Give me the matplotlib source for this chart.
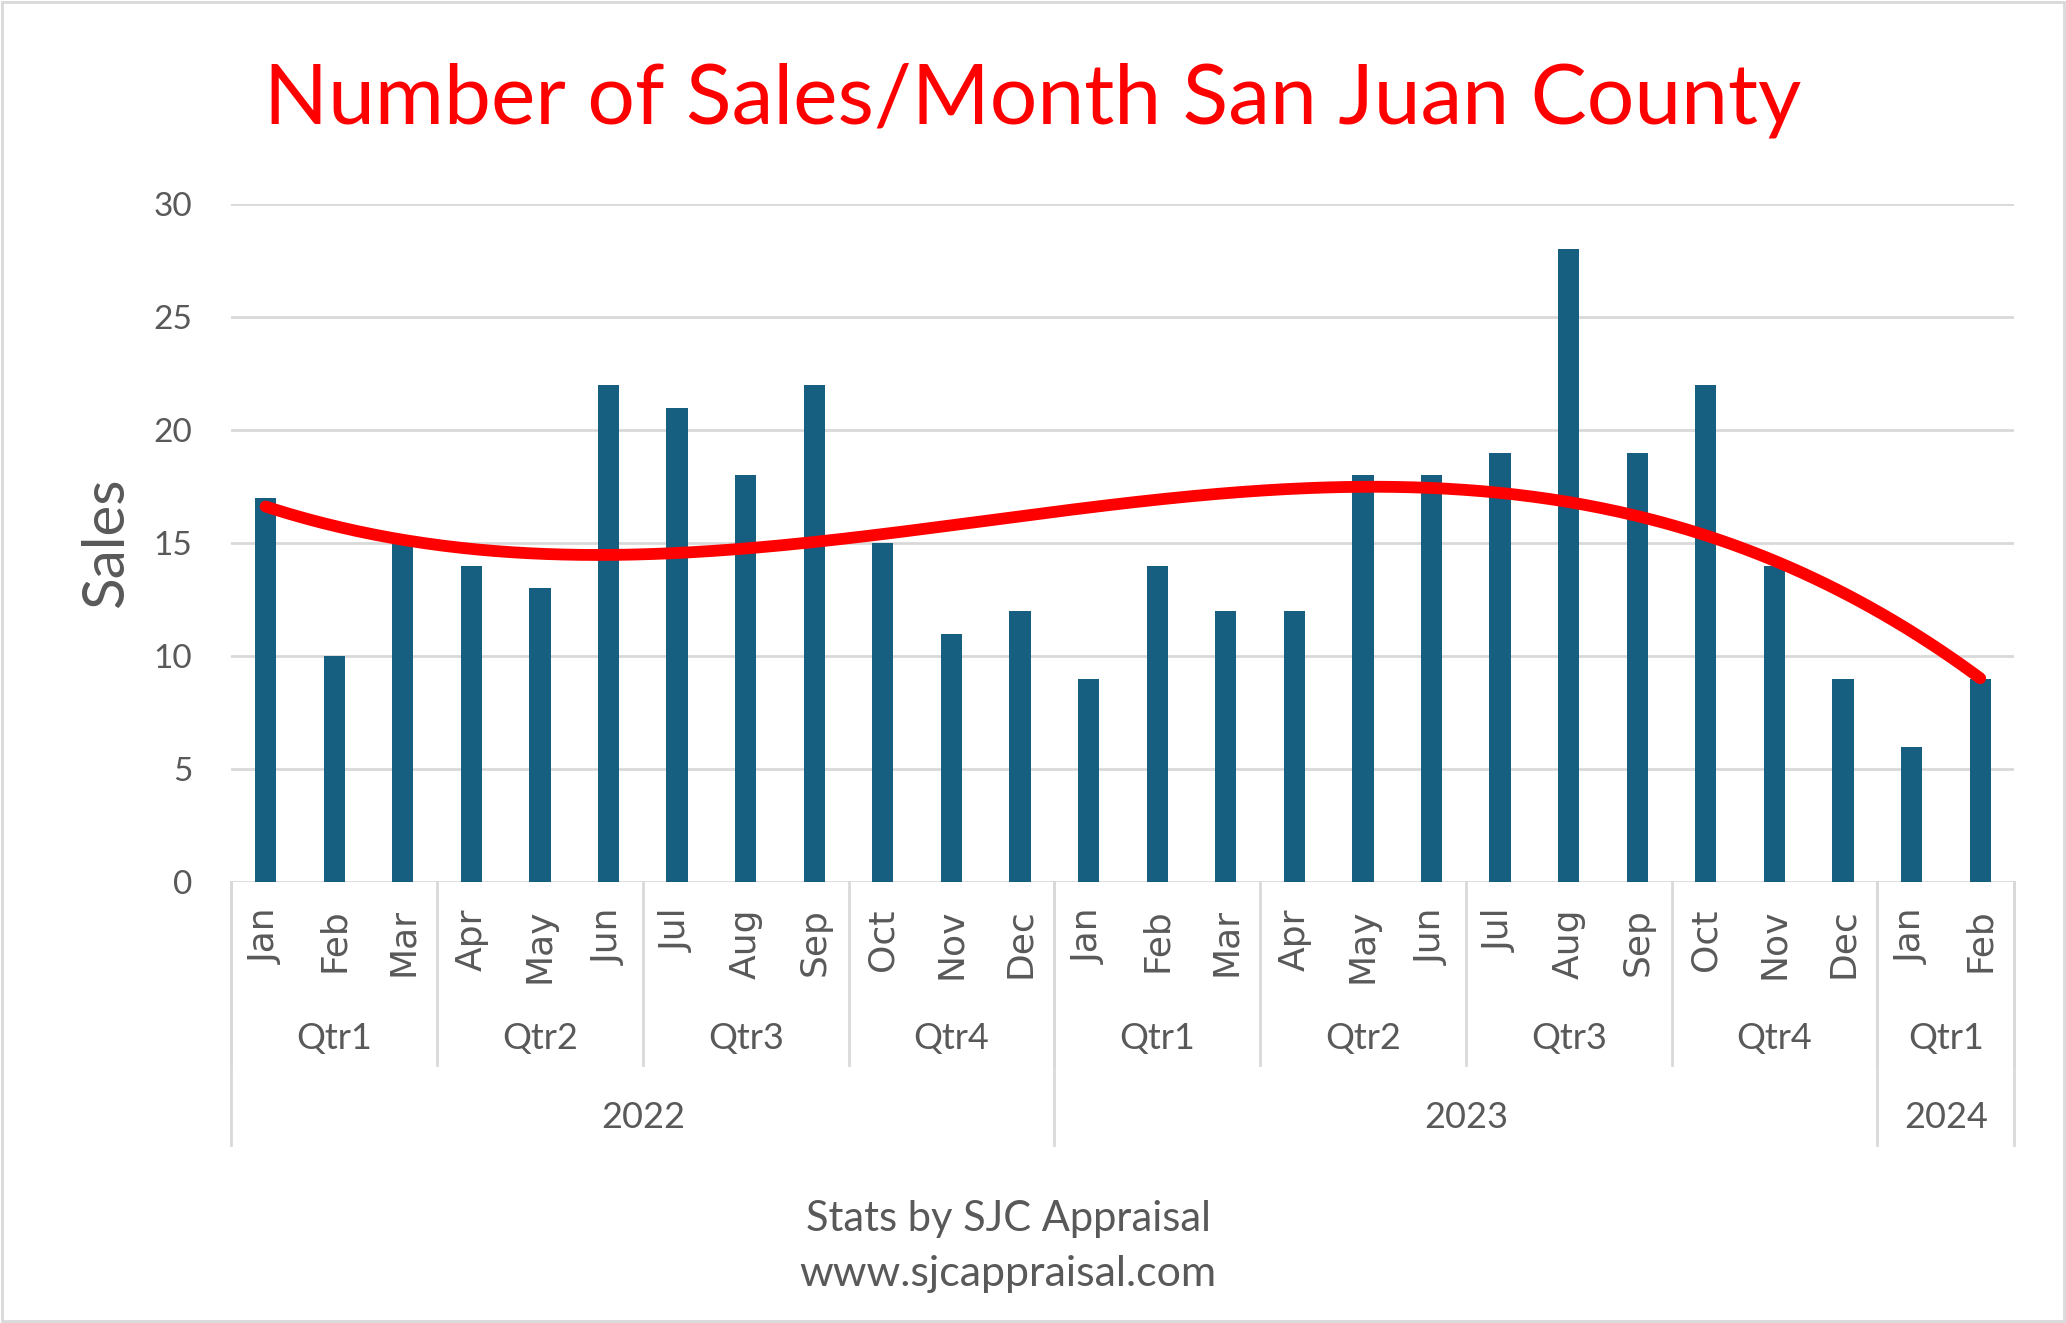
import numpy as np
import matplotlib
matplotlib.use('Agg')
import matplotlib.pyplot as plt
from matplotlib.patches import Rectangle

plt.rcParams['font.family'] = ['Lato', 'DejaVu Sans']

# data
MONTHS = ['Jan', 'Feb', 'Mar', 'Apr', 'May', 'Jun',
          'Jul', 'Aug', 'Sep', 'Oct', 'Nov', 'Dec'] * 2 + ['Jan', 'Feb']
SALES = [17, 10, 15, 14, 13, 22, 21, 18, 22, 15, 11, 12,
         9, 14, 12, 12, 18, 18, 19, 28, 19, 22, 14, 9,
         6, 9]
QUARTERS = ['Qtr1', 'Qtr2', 'Qtr3', 'Qtr4',
            'Qtr1', 'Qtr2', 'Qtr3', 'Qtr4', 'Qtr1']
QTR_SIZE = [3, 3, 3, 3, 3, 3, 3, 3, 2]
YEARS = ['2022', '2023', '2024']
YEAR_SIZE = [12, 12, 2]
YTICKS = [0, 5, 10, 15, 20, 25, 30]

TITLE = 'Number of Sales/Month San Juan County'
FOOTER = ['Stats by SJC Appraisal', 'www.sjcappraisal.com']

GRAY = '#D9D9D9'
TXT = '#595959'
BAR = '#165F81'

fig = plt.figure(figsize=(20.66, 13.23), dpi=100)
ax = fig.add_axes([0.11196, 0.33311, 0.86311, 0.51247])

x = np.arange(len(SALES))
ax.bar(x, SALES, width=0.31, color=BAR, zorder=2)

# polynomial trendline (order 3), same as excel
coef = np.polyfit(x, SALES, 3)
xs = np.linspace(x[0], x[-1], 300)
ax.plot(xs, np.polyval(coef, xs), color='#FF0000', lw=8.5,
        solid_capstyle='round', zorder=3)

ax.set_xlim(-0.5, len(SALES) - 0.5)
ax.set_ylim(0, 30)
ax.set_yticks(YTICKS)
ax.set_yticklabels([str(t) for t in YTICKS])
ax.tick_params(axis='y', length=0, pad=28, labelsize=24, labelcolor=TXT)
ax.yaxis.grid(True, color=GRAY, lw=2)
ax.set_axisbelow(True)
ax.set_xticks([])
for s in ax.spines.values():
    s.set_visible(False)

# multi level category axis
trans = ax.get_xaxis_transform()
for i, m in enumerate(MONTHS):
    ax.text(i, -0.038, m, rotation=90, ha='center', va='top',
            transform=trans, fontsize=26, family='DejaVu Sans', color=TXT)

q_edges = np.cumsum([0] + QTR_SIZE) - 0.5
for k, q in enumerate(QUARTERS):
    ax.text((q_edges[k] + q_edges[k + 1]) / 2, -0.2297, q, ha='center',
            va='center', transform=trans, fontsize=26, color=TXT)
for e in q_edges:
    ax.plot([e, e], [0, -0.2695], transform=trans, clip_on=False,
            color=GRAY, lw=2)

y_edges = np.cumsum([0] + YEAR_SIZE) - 0.5
for k, yr in enumerate(YEARS):
    ax.text((y_edges[k] + y_edges[k + 1]) / 2, -0.3462, yr, ha='center',
            va='center', transform=trans, fontsize=26, color=TXT)
for e in y_edges:
    ax.plot([e, e], [0, -0.3875], transform=trans, clip_on=False,
            color=GRAY, lw=2)

# title, axis label, footer
fig.text(0.5, 1 - 123 / 1323, TITLE, ha='center', va='baseline',
         fontsize=60.5, color='#FF0000')
fig.text(107 / 2066, 1 - 543 / 1323, 'Sales', rotation=90, ha='center',
         va='center', fontsize=42, color=TXT)
fig.text(1008 / 2066, 1 - 1219 / 1323, FOOTER[0], ha='center', va='center',
         fontsize=30, color=TXT)
fig.text(1008 / 2066, 1 - 1274 / 1323, FOOTER[1], ha='center', va='center',
         fontsize=31, color=TXT)

# chart border
fig.patches.append(Rectangle((0.0008, 0.0012), 0.9984, 0.9976,
                             transform=fig.transFigure, fill=False,
                             edgecolor=GRAY, lw=2))

fig.savefig('out.png', dpi=100)
